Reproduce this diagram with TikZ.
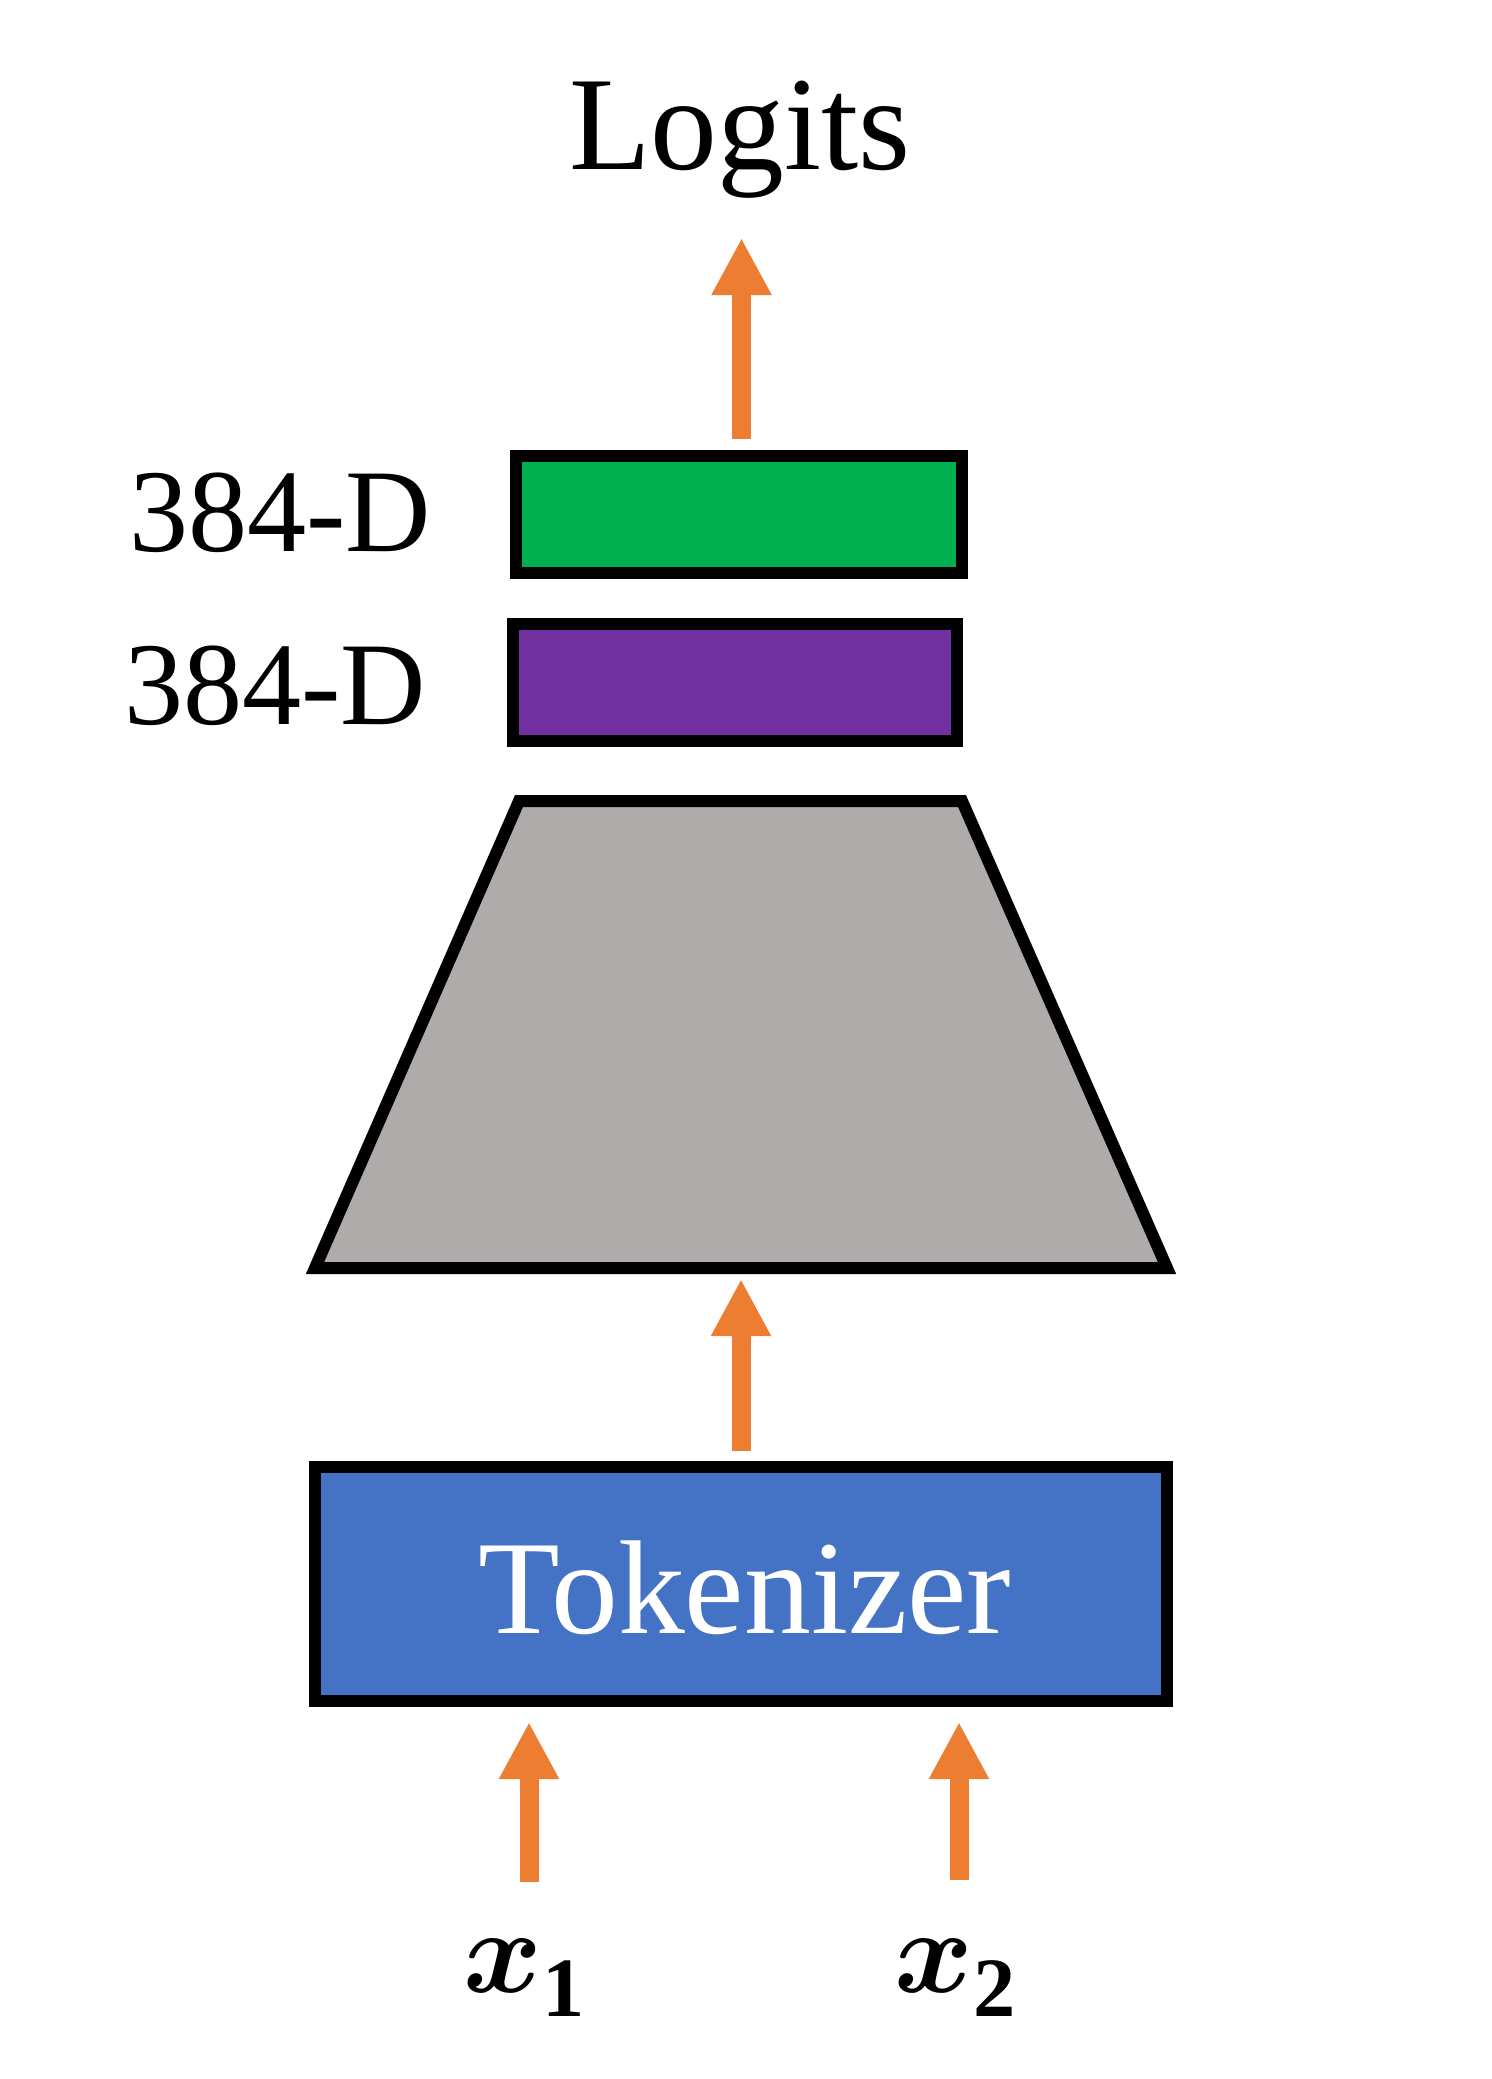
\documentclass[tikz,border=0pt]{standalone}
\usepackage{fix-cm}
\usepackage{fontspec}
\setmainfont{Liberation Serif}
\usetikzlibrary{arrows.meta}
\definecolor{myorange}{HTML}{ED7D31}
\definecolor{mygreen}{HTML}{00AF50}
\definecolor{mypurple}{HTML}{7030A0}
\definecolor{mygrey}{HTML}{AFABAB}
\definecolor{myblue}{HTML}{4472C4}
\newcommand{\mysub}[1]{\raisebox{-0.07cm}{\fontsize{24}{28}\selectfont\bfseries #1}}
\tikzset{
  box/.style={draw=black, line width=0.12cm, inner sep=0pt, outer sep=0pt},
  arr/.style={draw=myorange, line width=0.19cm, -{Triangle[length=0.57cm,width=0.56cm]}},
  lbl/.style={anchor=base, inner sep=0pt}
}
\begin{document}
\begin{tikzpicture}[x=0.01cm,y=-0.01cm]
\useasboundingbox (0,0) rectangle (1491,2079);
% texts
\node[lbl, font=\fontsize{38}{44}\selectfont] (logits) at (740,170) {Logits};
\node[lbl, font=\fontsize{33.6}{40}\selectfont] (d1) at (280,551) {384-D};
\node[lbl, font=\fontsize{33.6}{40}\selectfont] (d2) at (275,724) {384-D};
% boxes
\node[box, fill=mygreen, minimum width=4.46cm, minimum height=1.17cm] (green) at (739,514.5) {};
\node[box, fill=mypurple, minimum width=4.44cm, minimum height=1.17cm] (purple) at (735,682.5) {};
\coordinate (tl) at (519,801);
\coordinate (tr) at (962,801);
\coordinate (br) at (1167,1268);
\coordinate (bl) at (315,1268);
\draw[line width=0.12cm, fill=mygrey, line join=miter] (tl) -- (tr) -- (br) -- (bl) -- cycle;
\node[box, fill=myblue, minimum width=8.52cm, minimum height=2.34cm] (tok) at (741,1584) {};
\node[lbl, font=\fontsize{38}{44}\selectfont, text=white] (toktext) at (745,1633) {Tokenizer};
% inputs
\node[lbl, font=\fontsize{34}{40}\selectfont\boldmath] (x1) at (525,1992) {$x_{\mysub{1}}$};
\node[lbl, font=\fontsize{34}{40}\selectfont\boldmath] (x2) at (956,1992) {$x_{\mysub{2}}$};
% arrow coordinates
\coordinate (a1s) at (741.5,439);
\coordinate (a1e) at (741.5,238);
\coordinate (a2s) at (741,1451);
\coordinate (a2e) at (741,1279);
\coordinate (a3s) at (529,1882);
\coordinate (a3e) at (529,1722);
\coordinate (a4s) at (959,1880);
\coordinate (a4e) at (959,1722);
\draw[arr] (a1s) -- (a1e);
\draw[arr] (a2s) -- (a2e);
\draw[arr] (a3s) -- (a3e);
\draw[arr] (a4s) -- (a4e);
\end{tikzpicture}
\end{document}
